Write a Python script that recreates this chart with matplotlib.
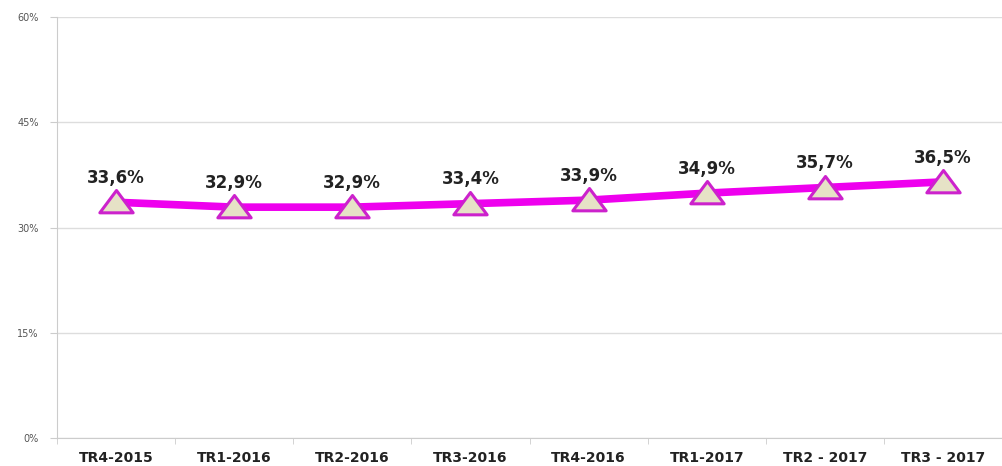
import numpy as np
import matplotlib.pyplot as plt
from matplotlib.ticker import FuncFormatter
from matplotlib.path import Path

categories = ["TR4-2015", "TR1-2016", "TR2-2016", "TR3-2016", "TR4-2016",
              "TR1-2017", "TR2 - 2017", "TR3 - 2017"]
values = [33.6, 32.9, 32.9, 33.4, 33.9, 34.9, 35.7, 36.5]
value_labels = ["33,6%", "32,9%", "32,9%", "33,4%", "33,9%", "34,9%", "35,7%", "36,5%"]
yticks = [0, 15, 30, 45, 60]

# flatter triangle like the Excel marker
tri = Path([(-1.0, -0.62), (1.0, -0.62), (0.0, 0.72), (-1.0, -0.62)],
           [Path.MOVETO, Path.LINETO, Path.LINETO, Path.CLOSEPOLY])

fig = plt.figure(figsize=(10.02, 4.66), dpi=100)
ax = fig.add_axes([57 / 1002, 1 - 438 / 466, 1 - 57 / 1002, (438 - 17) / 466])

x = np.arange(len(categories))
ax.plot(x, values, color="#ee00ee", linewidth=5.5, solid_capstyle="round", zorder=3)
ax.plot(x, values, linestyle="none", marker=tri, markersize=24,
        markerfacecolor="#e6e2c6", markeredgecolor="#cc22cc", markeredgewidth=2.2, zorder=4)

for xi, v, lab in zip(x, values, value_labels):
    ax.annotate(lab, (xi, v), xytext=(0, 11), textcoords="offset points",
                ha="center", va="bottom", fontsize=12, fontweight="bold", color="#222222")

ax.set_xlim(-0.5, 7.44)
ax.set_ylim(0, 60)
ax.set_yticks(yticks)
ax.yaxis.set_major_formatter(FuncFormatter(lambda v, p: f"{int(v)}%"))
ax.set_xticks(x)
ax.set_xticklabels(categories, fontsize=10, fontweight="bold", color="#222222")
ax.set_xticks(np.arange(-0.5, 8, 1), minor=True)
ax.tick_params(axis="x", which="major", length=0, pad=9)
ax.tick_params(axis="x", which="minor", length=4, color="#cccccc")
ax.tick_params(axis="y", length=5, color="#cccccc", labelsize=7, labelcolor="#555555", pad=8)

ax.grid(axis="y", color="#dddddd", linewidth=1)
ax.set_axisbelow(True)
for s in ["top", "right"]:
    ax.spines[s].set_visible(False)
ax.spines["left"].set_color("#cccccc")
ax.spines["bottom"].set_color("#cccccc")

fig.savefig("out.png", dpi=100)
